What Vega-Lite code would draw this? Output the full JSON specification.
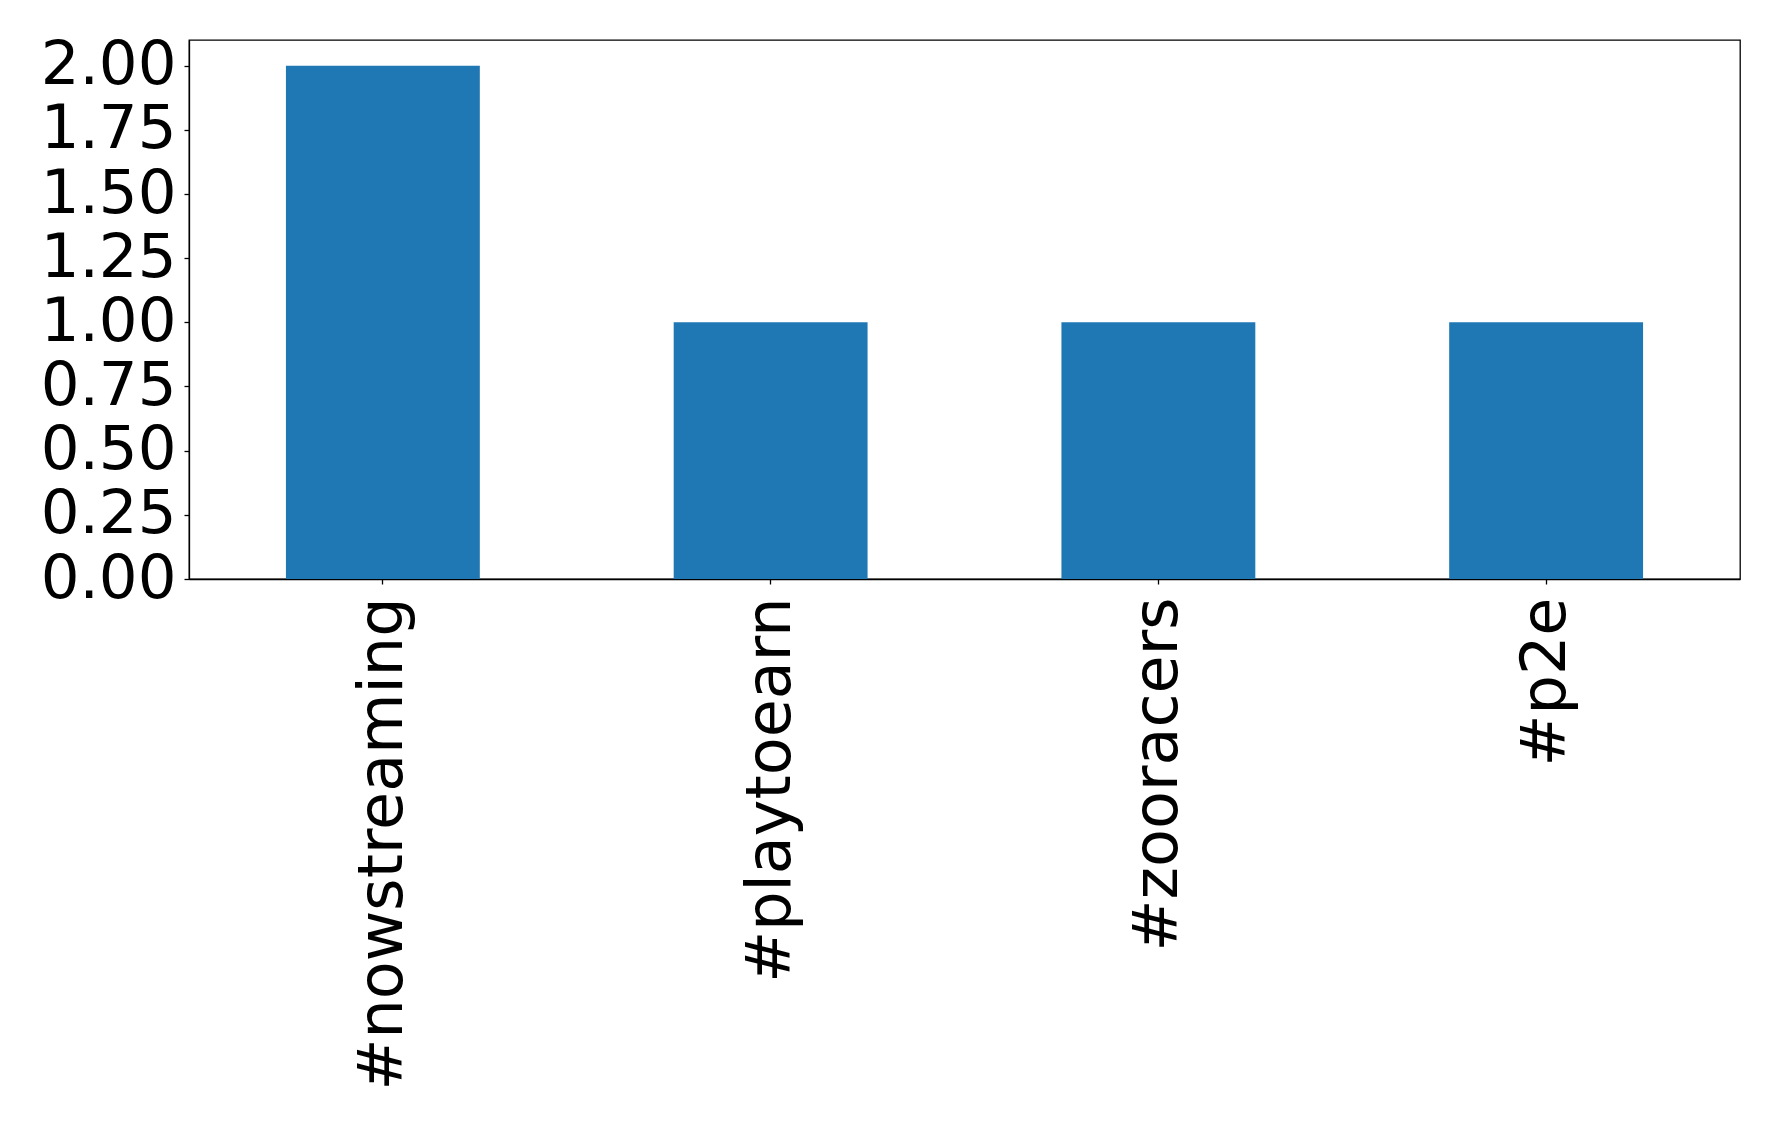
{
  "$schema": "https://vega.github.io/schema/vega-lite/v6.json",
  "width": 1551,
  "height": 539,
  "autosize": {"type": "none"},
  "padding": {"left": 189, "top": 40, "right": 38, "bottom": 546},
  "background": "white",
  "config": {
    "view": {"stroke": "black", "strokeWidth": 1.3},
    "font": "DejaVu Sans"
  },
  "data": {
    "values": [
      {"tag": "#nowstreaming", "count": 2},
      {"tag": "#playtoearn", "count": 1},
      {"tag": "#zooracers", "count": 1},
      {"tag": "#p2e", "count": 1}
    ]
  },
  "mark": {"type": "bar", "color": "#1f77b4"},
  "encoding": {
    "x": {
      "field": "tag",
      "type": "nominal",
      "sort": null,
      "scale": {"paddingInner": 0.5, "paddingOuter": 0.25},
      "axis": {
        "title": null,
        "labelAngle": 270,
        "labelAlign": "right",
        "labelBaseline": "middle",
        "labelFont": "DejaVu Sans",
        "labelFontSize": 62,
        "labelColor": "black",
        "labelPadding": 13,
        "labelLimit": 2000,
        "labelOverlap": false,
        "tickColor": "black",
        "tickSize": 5,
        "tickWidth": 1.3,
        "domainColor": "black",
        "domainWidth": 1.3,
        "grid": false
      }
    },
    "y": {
      "field": "count",
      "type": "quantitative",
      "scale": {"domain": [0, 2.1], "nice": false},
      "axis": {
        "title": null,
        "values": [0, 0.25, 0.5, 0.75, 1, 1.25, 1.5, 1.75, 2],
        "format": ".2f",
        "labelFont": "DejaVu Sans",
        "labelFontSize": 61,
        "labelColor": "black",
        "labelPadding": 8,
        "labelBaseline": "middle",
        "labelOverlap": false,
        "tickColor": "black",
        "tickSize": 5,
        "tickWidth": 1.3,
        "domainColor": "black",
        "domainWidth": 1.3,
        "grid": false
      }
    }
  }
}
